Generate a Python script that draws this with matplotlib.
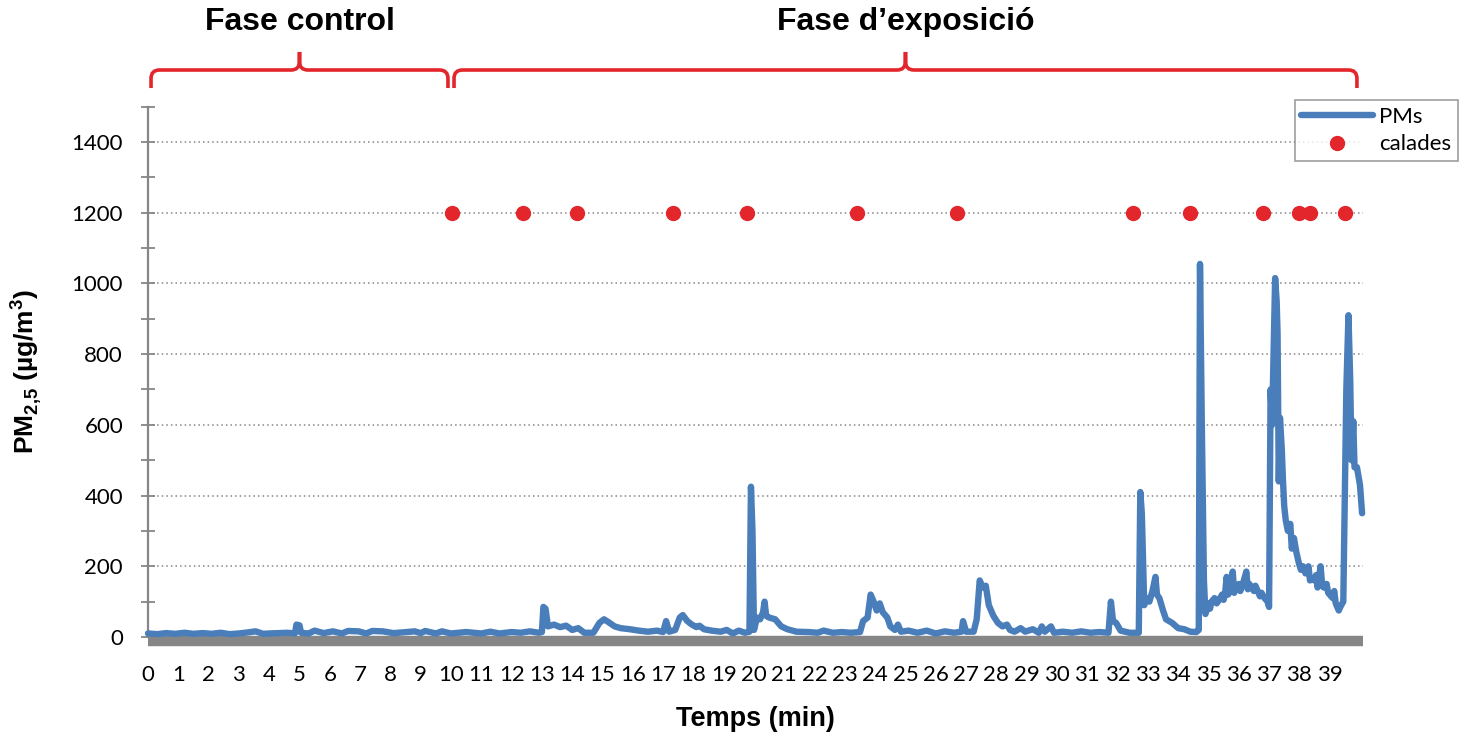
import numpy as np
import matplotlib
matplotlib.use("Agg")
import matplotlib.pyplot as plt
from matplotlib.path import Path
from matplotlib.patches import PathPatch
import matplotlib.transforms as mtransforms

plt.rcParams['mathtext.fontset'] = 'custom'
plt.rcParams['mathtext.rm'] = 'Liberation Sans'
plt.rcParams['mathtext.bf'] = 'Liberation Sans:bold'

# PM2.5 trace (time in min, value in ug/m3)
t_pm = [0.0, 0.3, 0.6, 0.9, 1.2, 1.5, 1.8, 2.1, 2.4, 2.7, 3.0, 3.3, 3.55, 3.8, 4.0,
        4.3, 4.6, 4.85, 4.9, 5.0, 5.05, 5.3, 5.5, 5.8, 6.1, 6.4, 6.6, 6.95, 7.2, 7.4,
        7.75, 8.1, 8.4, 8.8, 9.0, 9.15, 9.5, 9.7, 10.0,
        10.5, 11.0, 11.3, 11.6, 12.0, 12.3, 12.6, 12.9, 13.0, 13.05, 13.12, 13.2, 13.4,
        13.6, 13.8, 14.0, 14.2, 14.4, 14.7, 14.9, 15.05, 15.2, 15.4, 15.6, 15.9, 16.2,
        16.5, 16.8, 17.0, 17.1, 17.2, 17.4, 17.55, 17.65, 17.8, 17.95, 18.1, 18.2,
        18.35, 18.6, 18.9, 19.1, 19.3, 19.5, 19.7, 19.85, 19.9, 19.95, 20.0, 20.1,
        20.2, 20.3, 20.35, 20.4, 20.5, 20.7, 20.9, 21.1, 21.4, 21.8, 22.1, 22.3, 22.6,
        22.9, 23.2, 23.5, 23.6, 23.75, 23.85, 23.95, 24.05, 24.15, 24.25, 24.4, 24.5,
        24.65, 24.75, 24.85, 25.1, 25.4, 25.7, 26.0, 26.3, 26.6, 26.85, 26.9, 27.0,
        27.25, 27.35, 27.45, 27.55, 27.65, 27.75, 27.9, 28.05, 28.2, 28.35, 28.45,
        28.6, 28.8, 28.95, 29.2, 29.4, 29.5, 29.6, 29.8, 29.9, 30.2, 30.5, 30.8, 31.1,
        31.4, 31.7, 31.78, 31.85, 31.95, 32.1, 32.4, 32.7, 32.75, 32.8, 32.88, 32.95,
        33.05, 33.15, 33.25, 33.3, 33.38, 33.5, 33.6, 33.8, 34.0, 34.2, 34.4, 34.6,
        34.68, 34.72, 34.78, 34.85, 34.9, 35.0, 35.05, 35.1, 35.2, 35.27, 35.35, 35.45,
        35.5, 35.55, 35.6, 35.65, 35.7, 35.8, 35.85, 35.9, 36.0, 36.05, 36.1, 36.25,
        36.3, 36.35, 36.5, 36.55, 36.6, 36.7, 36.75, 36.85, 36.95, 37.0,
        37.05, 37.1, 37.2, 37.25, 37.28, 37.32, 37.36, 37.42, 37.46, 37.5, 37.55,
        37.62, 37.7, 37.75, 37.82, 37.9, 37.98, 38.05, 38.12, 38.2, 38.3, 38.35, 38.4,
        38.5, 38.55, 38.6, 38.7, 38.75, 38.8, 38.9, 38.95, 39.0, 39.1, 39.15, 39.2,
        39.3, 39.38, 39.45, 39.55, 39.62, 39.68, 39.72, 39.78, 39.82, 39.9, 40.0, 40.07]
pm = [10, 8, 11, 9, 12, 9, 11, 9, 12, 8, 10, 13, 16, 9, 10,
      11, 12, 10, 35, 33, 12, 10, 18, 11, 16, 10, 17, 16, 10, 17,
      16, 11, 13, 16, 11, 17, 10, 16, 10,
      14, 10, 15, 10, 14, 12, 16, 12, 14, 85, 80, 30, 35,
      28, 32, 20, 25, 12, 12, 40, 50, 42, 30, 25, 22, 18,
      15, 18, 14, 45, 15, 20, 55, 62, 45, 35, 28, 32,
      22, 18, 15, 20, 10, 18, 12, 15, 425, 300, 20, 55,
      50, 70, 100, 60, 55, 50, 30, 22, 15, 14, 12, 18, 12,
      14, 12, 14, 45, 55, 120, 100, 75, 95, 70, 55, 30,
      20, 35, 15, 18, 12, 18, 10, 16, 12, 15, 45, 15,
      15, 50, 160, 140, 145, 90, 60, 40, 30, 35, 20,
      15, 25, 15, 22, 12, 30, 15, 30, 12, 15, 12, 16, 12,
      14, 12, 100, 45, 40, 18, 12, 12, 410, 350, 90, 110,
      100, 130, 170, 120, 110, 75, 50, 40, 25, 22, 15, 14,
      20, 1055, 600, 160, 65, 95, 80, 100, 110, 95, 105, 120,
      105, 125, 170, 120, 130, 185, 125, 140, 150, 130, 140, 185,
      135, 150, 130, 145, 135, 115, 125, 110, 100, 85,
      700, 600, 1015, 950, 860, 440, 620, 530, 440, 370, 330,
      300, 320, 250, 280, 240, 210, 190, 200, 180, 200, 160, 165,
      160, 175, 140, 200, 150, 140, 150, 125, 120, 110, 130, 95,
      75, 90, 100, 700, 910, 720, 500, 610, 480, 480, 430, 350]

# "calades" markers (time in min), all plotted at 1200
t_calades = [10.03, 12.38, 14.16, 17.33, 19.77, 23.4, 26.7, 32.5, 34.4, 36.8, 38.0, 38.35, 39.5]
calades_level = 1200

phases = [("Fase control", 0.1, 9.9), ("Fase d\u2019exposici\u00f3", 10.1, 39.9)]
x_ticks = list(range(0, 40))

blue = '#4a7ebb'
red = '#e3262b'
gray = '#868686'

fig = plt.figure(figsize=(14.6, 7.38), dpi=100)
ax = fig.add_axes([148 / 1460, 101 / 738, 1215 / 1460, 530.4 / 738])

ax.plot(t_pm, pm, color=blue, linewidth=4.6, solid_joinstyle='round',
        solid_capstyle='round', label='PMs', zorder=4, clip_on=False)
ax.plot(t_calades, [calades_level] * len(t_calades), linestyle='none', marker='o',
        markersize=10, color=red, markeredgecolor=red, label='calades', zorder=5)

ax.set_xlim(0, 40.1)
ax.set_ylim(0, 1500)
ax.set_yticks(np.arange(0, 1401, 200))
ax.set_yticks(np.arange(0, 1501, 100), minor=True)
ax.set_xticks(x_ticks)
ax.set_xticklabels([str(v) for v in x_ticks])

ax.tick_params(axis='x', length=0, pad=17, labelsize=16, labelfontfamily='Lato')
ax.tick_params(axis='y', which='both', direction='inout', length=10, width=1.3,
               color=gray, pad=13, labelsize=16, labelfontfamily='Lato')

for y in range(200, 1401, 200):
    ax.axhline(y, color=gray, linestyle=(0, (1, 2)), linewidth=1.1, zorder=1)

for side in ['top', 'right']:
    ax.spines[side].set_visible(False)
ax.spines['left'].set_color(gray)
ax.spines['left'].set_linewidth(1.6)
ax.spines['bottom'].set_color(gray)
ax.spines['bottom'].set_linewidth(7.5)
ax.spines['bottom'].set_capstyle('butt')
ax.spines['bottom'].set_position(('outward', 3))

ax.set_xlabel('Temps (min)', fontfamily='Liberation Sans', fontweight='bold',
              fontsize=19.5, labelpad=15)
ax.set_ylabel('PM$_{\\mathbf{2{,}5}}$ (\u00b5g/m$^{\\mathbf{3}}$)', fontfamily='Liberation Sans',
              fontweight='bold', fontsize=19, labelpad=20)

# braces above the two phases
trans = mtransforms.blended_transform_factory(ax.transData, ax.transAxes)
y_h, y_bot, y_top, ry, rx = 1.069, 1.035, 1.103, 0.016, 0.28
for name, x0, x1 in phases:
    xm = (x0 + x1) / 2
    verts = [(x0, y_bot), (x0, y_h - ry), (x0, y_h), (x0 + rx, y_h),
             (xm - rx, y_h), (xm, y_h), (xm, y_h + ry), (xm, y_top),
             (xm, y_h + ry), (xm, y_h), (xm + rx, y_h),
             (x1 - rx, y_h), (x1, y_h), (x1, y_h - ry), (x1, y_bot)]
    codes = [Path.MOVETO, Path.LINETO, Path.CURVE3, Path.CURVE3,
             Path.LINETO, Path.CURVE3, Path.CURVE3, Path.LINETO,
             Path.LINETO, Path.CURVE3, Path.CURVE3,
             Path.LINETO, Path.CURVE3, Path.CURVE3, Path.LINETO]
    patch = PathPatch(Path(verts, codes), transform=trans, facecolor='none',
                      edgecolor=red, linewidth=2.6, clip_on=False)
    ax.add_patch(patch)
    ax.text(xm, 1.16, name, transform=trans, ha='center', va='center',
            fontfamily='Liberation Sans', fontweight='bold', fontsize=23)

leg = fig.legend(loc='upper right', bbox_to_anchor=(1458 / 1460, 1 - 100 / 738),
                 borderaxespad=0, frameon=True, fancybox=False, handlelength=3.2,
                 prop={'family': 'Lato', 'size': 16}, borderpad=0.3, labelspacing=0.35,
                 handletextpad=0.3)
leg.get_frame().set_edgecolor(gray)
leg.get_frame().set_linewidth(1.2)

fig.savefig('out.png', dpi=100)
